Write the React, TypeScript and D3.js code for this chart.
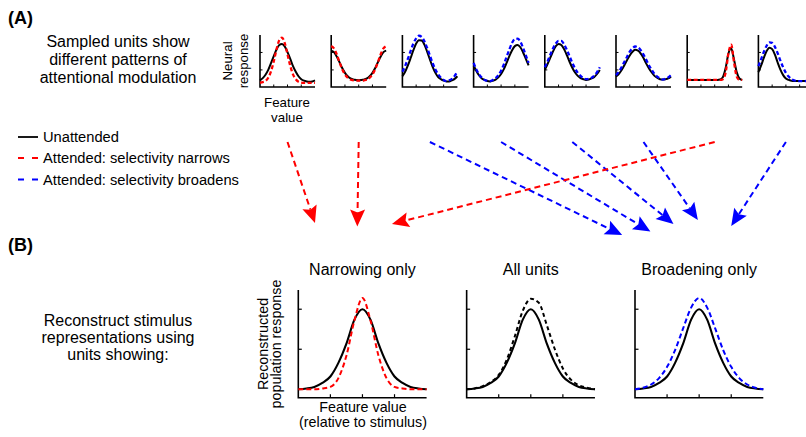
import React from 'react';
import * as d3 from 'd3';

const W = 806;
const H = 437;
const FONT = "'Liberation Sans', Arial, Helvetica, sans-serif";

// ---------- Part A: sampled units (feature value 0..1) ----------
const featureValues = [0, 0.05, 0.1, 0.15, 0.2, 0.25, 0.3, 0.35, 0.4, 0.45, 0.5, 0.55, 0.6, 0.65, 0.7, 0.75, 0.8, 0.85, 0.9, 0.95, 1];

const unitUnattended = [
  [0.02, 0.08, 0.17, 0.30, 0.48, 0.67, 0.85, 0.97, 1.00, 0.93, 0.78, 0.60, 0.40, 0.25, 0.13, 0.05, 0.01, -0.01, -0.02, -0.01, 0.02],
  [0.82, 0.78, 0.66, 0.51, 0.35, 0.22, 0.13, 0.07, 0.04, 0.03, 0.02, 0.03, 0.04, 0.07, 0.13, 0.22, 0.35, 0.51, 0.66, 0.78, 0.82],
  [0.13, 0.25, 0.42, 0.62, 0.83, 1.01, 1.10, 1.09, 0.98, 0.79, 0.58, 0.38, 0.22, 0.11, 0.05, 0.01, -0.01, -0.01, 0.02, 0.06, 0.13],
  [0.42, 0.27, 0.15, 0.07, 0.03, 0.00, -0.01, 0.01, 0.04, 0.10, 0.19, 0.32, 0.49, 0.67, 0.83, 0.94, 0.97, 0.91, 0.77, 0.60, 0.42],
  [0.30, 0.46, 0.63, 0.80, 0.94, 1.00, 0.97, 0.86, 0.70, 0.52, 0.36, 0.23, 0.14, 0.08, 0.05, 0.03, 0.04, 0.07, 0.11, 0.19, 0.30],
  [0.12, 0.19, 0.29, 0.42, 0.56, 0.69, 0.79, 0.84, 0.82, 0.74, 0.62, 0.47, 0.34, 0.23, 0.14, 0.09, 0.05, 0.04, 0.05, 0.07, 0.12],
  [0.03, 0.03, 0.03, 0.03, 0.03, 0.03, 0.03, 0.03, 0.03, 0.03, 0.03, 0.03, 0.04, 0.11, 0.36, 0.74, 0.88, 0.59, 0.24, 0.07, 0.03],
  [0.24, 0.42, 0.63, 0.81, 0.90, 0.86, 0.71, 0.50, 0.31, 0.16, 0.07, 0.03, 0.01, 0.00, 0.00, 0.00, 0.00, 0.00, 0.00, 0.00, 0.00],
];

const unitAttended = [
  [-0.05, -0.03, 0.00, 0.09, 0.26, 0.53, 0.85, 1.10, 1.17, 1.02, 0.72, 0.41, 0.18, 0.05, -0.02, -0.04, -0.05, -0.05, -0.05, -0.05, -0.05],
  [0.94, 0.88, 0.72, 0.51, 0.32, 0.18, 0.09, 0.04, 0.02, 0.01, 0.01, 0.01, 0.02, 0.04, 0.09, 0.18, 0.32, 0.51, 0.72, 0.88, 0.94],
  [0.25, 0.41, 0.60, 0.81, 1.01, 1.15, 1.22, 1.19, 1.07, 0.89, 0.69, 0.48, 0.31, 0.18, 0.09, 0.03, 0.00, 0.02, 0.06, 0.14, 0.25],
  [0.49, 0.31, 0.18, 0.09, 0.03, 0.01, 0.00, 0.03, 0.08, 0.16, 0.28, 0.45, 0.65, 0.85, 1.03, 1.13, 1.14, 1.06, 0.89, 0.69, 0.49],
  [0.37, 0.53, 0.71, 0.88, 1.01, 1.08, 1.08, 0.99, 0.84, 0.67, 0.49, 0.34, 0.22, 0.14, 0.08, 0.05, 0.06, 0.09, 0.15, 0.24, 0.37],
  [0.16, 0.25, 0.37, 0.51, 0.65, 0.79, 0.88, 0.93, 0.91, 0.83, 0.71, 0.57, 0.42, 0.30, 0.19, 0.12, 0.07, 0.04, 0.06, 0.10, 0.16],
  [0.03, 0.03, 0.03, 0.03, 0.03, 0.03, 0.03, 0.03, 0.03, 0.03, 0.03, 0.03, 0.03, 0.05, 0.24, 0.75, 0.98, 0.52, 0.12, 0.03, 0.03],
  [0.40, 0.59, 0.79, 0.95, 1.04, 1.03, 0.92, 0.75, 0.55, 0.37, 0.22, 0.12, 0.05, 0.02, 0.00, 0.00, 0.00, 0.00, 0.01, 0.02, 0.03],
];

// 'narrows' (red) or 'broadens' (blue)
const unitModulation = ['narrows', 'narrows', 'broadens', 'broadens', 'broadens', 'broadens', 'narrows', 'broadens'];

const unitXTicks = [0.25, 0.5, 0.75];
const unitYTicks = [0.3, 0.77];

// ---------- Part B: reconstructed population responses ----------
const relFeature = [-2, -1.75, -1.5, -1.25, -1, -0.75, -0.5, -0.25, 0, 0.25, 0.5, 0.75, 1, 1.25, 1.5, 1.75, 2];
const popUnattended = [0.00, 0.01, 0.03, 0.08, 0.16, 0.33, 0.57, 0.87, 1.00, 0.87, 0.57, 0.33, 0.16, 0.08, 0.03, 0.01, 0.00];
const popNarrowing = [0.00, 0.00, 0.00, 0.01, 0.03, 0.14, 0.42, 0.86, 1.14, 0.86, 0.42, 0.14, 0.03, 0.01, 0.00, 0.00, 0.00];
const popAllUnits = [0.00, 0.01, 0.04, 0.09, 0.18, 0.37, 0.66, 0.98, 1.13, 1.08, 0.80, 0.50, 0.26, 0.12, 0.05, 0.02, 0.00];
const popBroadening = [0.00, 0.02, 0.06, 0.14, 0.28, 0.49, 0.76, 1.02, 1.14, 1.02, 0.76, 0.49, 0.28, 0.14, 0.06, 0.02, 0.00];

const popTitles = ['Narrowing only', 'All units', 'Broadening only'];
const popAttended = [popNarrowing, popAllUnits, popBroadening];
const popAttendedColor = ['#ff0000', '#000000', '#0000ff'];
const popXTicks = [-1, 0, 1];
const popYTicks = [0, 0.5, 1];

// ---------- Arrows: unit -> reconstruction panel ----------
const arrowTargetPanel = [0, 0, 2, 2, 2, 2, 0, 2];
const arrowTargetFrac = [0.13, 0.46, -0.1, 0.12, 0.3, 0.49, 0.73, 0.75];
const arrowTipY = [223, 226.5, 235, 231.5, 224, 220, 224, 226];

const legendItems = [
  { label: 'Unattended', color: '#000000', dash: null },
  { label: 'Attended: selectivity narrows', color: '#ff0000', dash: '6,8' },
  { label: 'Attended: selectivity broadens', color: '#0000ff', dash: '6,8' },
];

const modColor = (m: string) => (m === 'narrows' ? '#ff0000' : '#0000ff');

export default function App() {
  const unitW = 55;
  const unitStep = 71.2;
  const unitX0 = 260;
  const unitTop = 35;
  const unitBottom = 87;
  const ysUnit = d3.scaleLinear().domain([-0.16, 1.24]).range([unitBottom, unitTop]);

  const popW = 128.3;
  const popStep = 168.35;
  const popX0 = 298.3;
  const popTop = 290;
  const popBottom = 397.7;
  const ysPop = d3.scaleLinear().domain([-0.105, 1.24]).range([popBottom, popTop]);

  const popScales = popTitles.map((_, i) =>
    d3.scaleLinear().domain([-2, 2]).range([popX0 + i * popStep, popX0 + i * popStep + popW])
  );

  const units = unitUnattended.map((u, i) => {
    const x0 = unitX0 + i * unitStep;
    const xs = d3.scaleLinear().domain([0, 1]).range([x0, x0 + unitW]);
    const line = d3
      .line<number>()
      .x((_, j) => xs(featureValues[j]))
      .y((d) => ysUnit(d))
      .curve(d3.curveMonotoneX);
    return (
      <g key={'u' + i}>
        <path d={`M${x0},${unitTop}V${unitBottom}H${x0 + unitW}`} fill="none" stroke="#000" strokeWidth={1.6} />
        {unitXTicks.map((t) => (
          <line key={'xt' + t} x1={xs(t)} x2={xs(t)} y1={unitBottom} y2={unitBottom - 2.5} stroke="#000" strokeWidth={1} />
        ))}
        {unitYTicks.map((t) => (
          <line key={'yt' + t} x1={x0} x2={x0 + 2.5} y1={ysUnit(t)} y2={ysUnit(t)} stroke="#000" strokeWidth={1} />
        ))}
        <path d={line(u) || ''} fill="none" stroke="#000" strokeWidth={2} />
        <path
          d={line(unitAttended[i]) || ''}
          fill="none"
          stroke={modColor(unitModulation[i])}
          strokeWidth={2.3}
          strokeDasharray="4,2.5"
        />
      </g>
    );
  });

  const popLine = (xs: d3.ScaleLinear<number, number>) =>
    d3
      .line<number>()
      .x((_, j) => xs(relFeature[j]))
      .y((d) => ysPop(d))
      .curve(d3.curveMonotoneX);

  const pops = popTitles.map((title, i) => {
    const xs = popScales[i];
    const x0 = xs(-2);
    const x1 = xs(2);
    const line = popLine(xs);
    return (
      <g key={'p' + i}>
        <text x={(x0 + x1) / 2} y={275} textAnchor="middle" fontSize={16} fontFamily={FONT}>
          {title}
        </text>
        <path d={`M${x0},${popTop}V${popBottom}H${x1}`} fill="none" stroke="#000" strokeWidth={1.6} />
        {popXTicks.map((t) => (
          <line key={'xt' + t} x1={xs(t)} x2={xs(t)} y1={popBottom} y2={popBottom - 3.5} stroke="#000" strokeWidth={1.2} />
        ))}
        {popYTicks.map((t) => (
          <line key={'yt' + t} x1={x0} x2={x0 + 3.5} y1={ysPop(t)} y2={ysPop(t)} stroke="#000" strokeWidth={1.2} />
        ))}
        <path d={line(popUnattended) || ''} fill="none" stroke="#000" strokeWidth={2.1} />
        <path
          d={line(popAttended[i]) || ''}
          fill="none"
          stroke={popAttendedColor[i]}
          strokeWidth={2}
          strokeDasharray={i === 1 ? '4,3' : '5,3'}
        />
      </g>
    );
  });

  const arrows = arrowTargetPanel.map((p, i) => {
    const sx = unitX0 + i * unitStep + unitW / 2;
    const sy = 142;
    const xs = popScales[p];
    const tx = xs(-2) + arrowTargetFrac[i] * popW;
    const ty = arrowTipY[i];
    const dx = tx - sx;
    const dy = ty - sy;
    const len = Math.hypot(dx, dy);
    const ux = dx / len;
    const uy = dy / len;
    const L = 17;
    const hw = 7.5;
    const bx = tx - ux * L;
    const by = ty - uy * L;
    const col = modColor(unitModulation[i]);
    const pts = [
      [tx, ty],
      [bx - uy * hw, by + ux * hw],
      [tx - ux * (L - 3), ty - uy * (L - 3)],
      [bx + uy * hw, by - ux * hw],
    ];
    return (
      <g key={'a' + i}>
        <line x1={sx} y1={sy} x2={bx + ux * 3} y2={by + uy * 3} stroke={col} strokeWidth={2} strokeDasharray="6,4" />
        <polygon points={pts.map((q) => q.join(',')).join(' ')} fill={col} />
      </g>
    );
  });

  return (
    <svg
      width={W}
      height={H}
      viewBox={`0 0 ${W} ${H}`}
      style={{ position: 'absolute', left: 0, top: 0, display: 'block', background: '#fff' }}
    >
      <rect x={0} y={0} width={W} height={H} fill="#fff" />
      {/* Panel labels */}
      <text x={8} y={24} fontSize={18} fontWeight="bold" fontFamily={FONT}>(A)</text>
      <text x={8} y={251} fontSize={18} fontWeight="bold" fontFamily={FONT}>(B)</text>

      {/* Descriptions */}
      <g fontSize={16} fontFamily={FONT} textAnchor="middle">
        <text x={118} y={47}>Sampled units show</text>
        <text x={118} y={65}>different patterns of</text>
        <text x={118} y={83}>attentional modulation</text>
        <text x={118} y={326}>Reconstruct stimulus</text>
        <text x={118} y={343}>representations using</text>
        <text x={118} y={360}>units showing:</text>
      </g>

      {/* Unit axis labels */}
      <g fontSize={13.3} fontFamily={FONT} textAnchor="middle">
        <text transform="translate(232,61) rotate(-90)">Neural</text>
        <text transform="translate(247.5,61) rotate(-90)">response</text>
        <text x={287} y={107}>Feature</text>
        <text x={287} y={122}>value</text>
      </g>

      {/* Legend */}
      {legendItems.map((it, i) => {
        const y = [137, 158, 179.5][i];
        return (
          <g key={'l' + i}>
            <line x1={18} x2={38} y1={y} y2={y} stroke={it.color} strokeWidth={1.8} strokeDasharray={it.dash || undefined} />
            <text x={43} y={y + 5} fontSize={14.7} fontFamily={FONT}>{it.label}</text>
          </g>
        );
      })}

      {units}
      {arrows}
      {pops}

      {/* Population axis labels */}
      <g fontSize={14.3} fontFamily={FONT} textAnchor="middle">
        <text transform="translate(268,344) rotate(-90)">Reconstructed</text>
        <text transform="translate(281,344) rotate(-90)">population response</text>
        <text x={363} y={411.5}>Feature value</text>
        <text x={363} y={426.5}>(relative to stimulus)</text>
      </g>
    </svg>
  );
}
